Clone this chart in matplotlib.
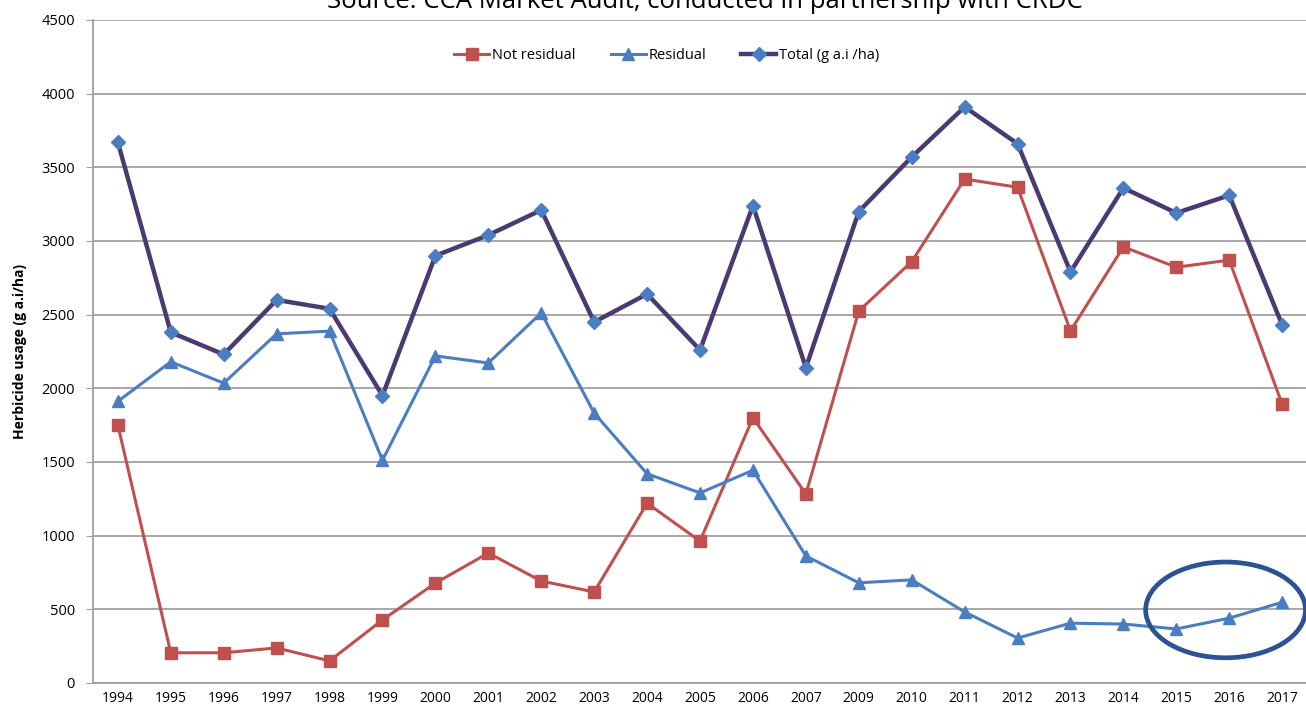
import matplotlib.pyplot as plt
from matplotlib.patches import Ellipse

# data (2008 missing in the source)
years = ['1994', '1995', '1996', '1997', '1998', '1999', '2000', '2001', '2002', '2003', '2004',
         '2005', '2006', '2007', '2009', '2010', '2011', '2012', '2013', '2014', '2015', '2016', '2017']
not_residual = [1750, 205, 205, 238, 150, 428, 678, 882, 692, 618, 1220,
                963, 1800, 1283, 2525, 2860, 3420, 3365, 2390, 2960, 2822, 2870, 1892]
residual = [1912, 2180, 2035, 2370, 2388, 1512, 2220, 2172, 2512, 1832, 1420,
            1290, 1444, 862, 680, 700, 482, 305, 406, 400, 367, 440, 548]
total = [3670, 2380, 2230, 2600, 2540, 1950, 2900, 3040, 3210, 2450, 2640,
         2260, 3240, 2140, 3200, 3570, 3910, 3660, 2790, 3360, 3190, 3310, 2430]

plt.rcParams['font.family'] = ['Open Sans', 'DejaVu Sans']

fig = plt.figure(figsize=(13.06, 7.11), dpi=100)
ax = fig.add_axes([0.0712, 0.0394, 0.9288, 0.9325])

x = list(range(len(years)))
ax.plot(x, not_residual, color='#C0504D', lw=2.2, marker='s', ms=8,
        mfc='#C0504D', mec='#C0504D', label='Not residual', zorder=3)
ax.plot(x, residual, color='#4A7EC0', lw=2.2, marker='^', ms=8,
        mfc='#4A7EC0', mec='#4A7EC0', label='Residual', zorder=3)
ax.plot(x, total, color='#4B3A72', lw=3.2, marker='D', ms=7,
        mfc='#4A7EC0', mec='#4A7EC0', label='Total (g a.i /ha)', zorder=4)

# highlight ring round the last residual points
ax.add_patch(Ellipse((20.93, 496), 3.02, 650, fill=False, ec='#2B5394',
                     lw=3.4, clip_on=False, zorder=5))

ax.set_xlim(-0.47, 22.45)
ax.set_ylim(0, 4500)
ax.set_xticks(x)
ax.set_xticklabels(years, fontsize=10)
ax.set_yticks(range(0, 4501, 500))
ax.tick_params(axis='y', labelsize=10.5, length=5, color='#a0a0a0', pad=8)
ax.tick_params(axis='x', length=0, pad=6)
ax.grid(axis='y', color='#a0a0a0', lw=1.3)
ax.set_axisbelow(True)
for side in ['top', 'right']:
    ax.spines[side].set_visible(False)
for side in ['left', 'bottom']:
    ax.spines[side].set_color('#a0a0a0')
    ax.spines[side].set_linewidth(1.3)

ax.set_ylabel('Herbicide usage (g a.i/ha)', fontsize=10, fontweight='bold', labelpad=10)

ax.legend(loc='upper center', bbox_to_anchor=(0.473, 0.978), ncol=3, frameon=False,
          fontsize=10.5, handlelength=2.4, columnspacing=2.4, handletextpad=0.2)

# title sits partly above the canvas, as in the cropped original
fig.text(0.54, 0.998, 'Source: CCA Market Audit, conducted in partnership with CRDC',
         ha='center', va='center', fontsize=18.5)

fig.savefig('out.png', dpi=100)
